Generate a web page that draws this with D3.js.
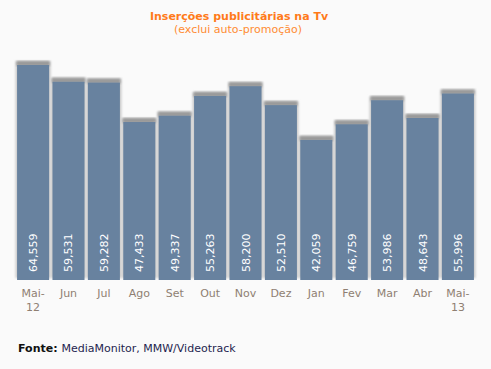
<!DOCTYPE html>
<html><head><meta charset="utf-8">
<script src="https://cdn.jsdelivr.net/npm/d3@7"></script>
<style>
html,body{margin:0;padding:0;background:#fafafa;}
svg{display:block;}
</style></head>
<body>
<script>
const months = ["Mai-\n12","Jun","Jul","Ago","Set","Out","Nov","Dez","Jan","Fev","Mar","Abr","Mai-\n13"];
const values = [64559,59531,59282,47433,49337,55263,58200,52510,42059,46759,53986,48643,55996];
const title = "Inserções publicitárias na Tv";
const subtitle = "(exclui auto-promoção)";

const W = 491, H = 369;
const svg = d3.select("body").append("svg").attr("width", W).attr("height", H);
svg.append("rect").attr("width", W).attr("height", H).attr("fill", "#fafafa");

const defs = svg.append("defs");
const f = defs.append("filter").attr("id","sh").attr("x","-20%").attr("y","-20%").attr("width","140%").attr("height","140%");
f.append("feGaussianBlur").attr("stdDeviation", 1.2);

const x = d3.scaleBand().domain(d3.range(values.length)).range([15.3, 475.7]).paddingInner(0.095).paddingOuter(0.05);
const y = d3.scaleLinear().domain([0, 64559]).range([280, 65]);

svg.append("text").attr("x", 239).attr("y", 20).attr("text-anchor","middle")
  .attr("font-family","DejaVu Sans, Verdana, sans-serif").attr("font-size", 11).attr("font-weight","bold")
  .attr("fill","#ff7a1a").text(title);
svg.append("text").attr("x", 238).attr("y", 33).attr("text-anchor","middle")
  .attr("font-family","DejaVu Sans, Verdana, sans-serif").attr("font-size", 11)
  .attr("fill","#ff8c33").text(subtitle);

const g = svg.append("g");
g.selectAll("rect.sh").data(values).join("rect").attr("class","sh")
  .attr("x", (d,i) => x(i) - 1.5).attr("width", x.bandwidth() + 3)
  .attr("y", d => y(d) - 4).attr("height", d => 280 - y(d) + 2)
  .attr("fill", "#c8c8c8").attr("filter","url(#sh)");
g.selectAll("rect.top").data(values).join("rect").attr("class","top")
  .attr("x", (d,i) => x(i) - 0.5).attr("width", x.bandwidth() + 1)
  .attr("y", d => y(d) - 4).attr("height", 5)
  .attr("fill", "#9a9a9a").attr("filter","url(#sh)");
g.selectAll("rect.bar").data(values).join("rect").attr("class","bar")
  .attr("x", (d,i) => x(i)).attr("width", x.bandwidth())
  .attr("y", d => y(d)).attr("height", d => 280 - y(d))
  .attr("fill", "#68829f");

const fmt = d3.format(",");
g.selectAll("text.val").data(values).join("text").attr("class","val")
  .attr("transform", (d,i) => `translate(${x(i) + x.bandwidth()/2 + 4},272) rotate(-90)`)
  .attr("font-family","DejaVu Sans, Verdana, sans-serif").attr("font-size", 11)
  .attr("fill","#ffffff").text(d => fmt(d));

const xAxis = d3.axisBottom(x).tickSize(0).tickFormat("");
const ax = svg.append("g").attr("transform","translate(0,280)").call(xAxis);
ax.select(".domain").remove();
ax.selectAll(".tick").each(function(d){
  const t = d3.select(this).select("text").text(null)
    .attr("font-family","DejaVu Sans, Verdana, sans-serif").attr("font-size", 11)
    .attr("fill","#8f7f72").attr("y", 17).attr("dy", 0);
  months[d].split("\n").forEach((s, k) => {
    t.append("tspan").attr("x", 0).attr("dy", k === 0 ? 0 : 14).text(s);
  });
});

const src = svg.append("text").attr("x", 18).attr("y", 352)
  .attr("font-family","DejaVu Sans, Verdana, sans-serif").attr("font-size", 11).attr("fill","#1f1f4f");
src.append("tspan").attr("font-weight","bold").attr("fill","#111").text("Fonte: ");
src.append("tspan").text("MediaMonitor, MMW/Videotrack");
</script>
</body></html>
